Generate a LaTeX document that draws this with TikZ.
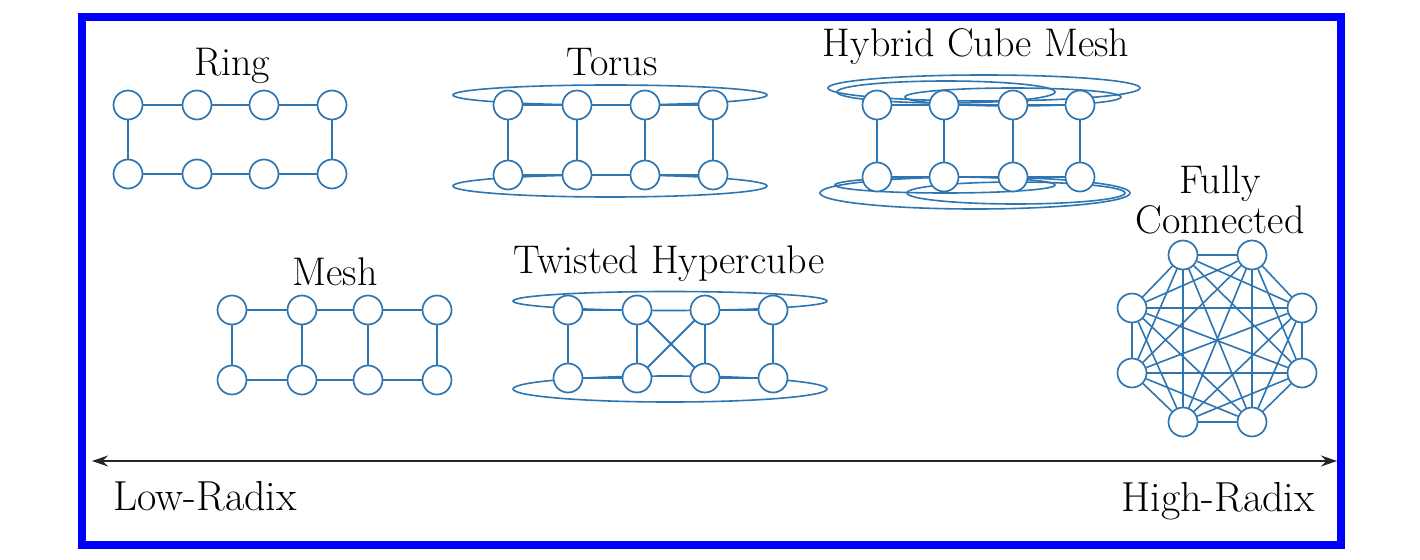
\documentclass[tikz,border=0pt]{standalone}
\usetikzlibrary{arrows.meta}
\definecolor{netblue}{RGB}{45,118,178}
\definecolor{frameblue}{RGB}{0,0,255}
\begin{document}
\begin{tikzpicture}[x=1pt,y=-1pt,
  nd/.style={circle,draw=netblue,fill=white,line width=1.7pt,minimum size=29pt,inner sep=0pt},
  ed/.style={draw=netblue,line width=1.8pt},
  ell/.style={draw=netblue,line width=1.6pt},
  lab/.style={font=\fontsize{40}{46}\selectfont,anchor=base,inner sep=0pt,text=black},
  blab/.style={font=\fontsize{42}{48}\selectfont,anchor=base,inner sep=0pt,text=black}]
\useasboundingbox (0,0) rectangle (1420,559);
\fill[white] (0,0) rectangle (1420,559);
\draw[frameblue,line width=8pt] (81.5,17) rectangle (1341,544.5);

% ---------- ellipses (behind nodes) ----------
% Torus
\draw[ell] (610,95) ellipse [x radius=157pt, y radius=10pt];
\draw[ell] (610,186) ellipse [x radius=157pt, y radius=11pt];
% Hybrid cube mesh
\draw[ell] (984,88) ellipse [x radius=156pt, y radius=13pt];
\draw[ell] (946,92) ellipse [x radius=109pt, y radius=11pt];
\draw[ell] (1013,97) ellipse [x radius=108pt, y radius=9pt];
\draw[ell] (975,193) ellipse [x radius=155pt, y radius=16pt];
\draw[ell] (945,185) ellipse [x radius=110pt, y radius=8pt];
\draw[ell] (1016,193) ellipse [x radius=109pt, y radius=11pt];
% Twisted hypercube
\draw[ell] (670,301) ellipse [x radius=157pt, y radius=9.5pt];
\draw[ell] (670,389) ellipse [x radius=157pt, y radius=13pt];

% ---------- nodes ----------
\foreach \x [count=\i] in {128,197,264,332} {
  \node[nd] (ra\i) at (\x,105) {};
  \node[nd] (rb\i) at (\x,174) {};
}
\foreach \x [count=\i] in {508,577,645,713} {
  \node[nd] (ta\i) at (\x,105) {};
  \node[nd] (tb\i) at (\x,175) {};
}
\foreach \x [count=\i] in {877,944,1013,1080} {
  \node[nd] (ha\i) at (\x,105) {};
  \node[nd] (hb\i) at (\x,177) {};
}
\foreach \x [count=\i] in {232,302,368,437} {
  \node[nd] (ma\i) at (\x,310) {};
  \node[nd] (mb\i) at (\x,380) {};
}
\foreach \x [count=\i] in {568,637,705,773} {
  \node[nd] (wa\i) at (\x,310) {};
  \node[nd] (wb\i) at (\x,378) {};
}
\node[nd] (f1) at (1183,255) {};
\node[nd] (f2) at (1252,255) {};
\node[nd] (f3) at (1302,308) {};
\node[nd] (f4) at (1302,373) {};
\node[nd] (f5) at (1252,422) {};
\node[nd] (f6) at (1183,422) {};
\node[nd] (f7) at (1132,373) {};
\node[nd] (f8) at (1132,308) {};

% ---------- edges ----------
% Ring
\foreach \i/\j in {1/2,2/3,3/4} {
  \draw[ed] (ra\i) -- (ra\j);
  \draw[ed] (rb\i) -- (rb\j);
}
\draw[ed] (ra1) -- (rb1);
\draw[ed] (ra4) -- (rb4);
% Torus, Hybrid, Mesh grids
\foreach \p in {t,h,m} {
  \foreach \i/\j in {1/2,2/3,3/4} {
    \draw[ed] (\p a\i) -- (\p a\j);
    \draw[ed] (\p b\i) -- (\p b\j);
  }
  \foreach \i in {1,...,4} { \draw[ed] (\p a\i) -- (\p b\i); }
}
% Twisted hypercube
\foreach \i/\j in {1/2,3/4} {
  \draw[ed] (wa\i) -- (wa\j);
  \draw[ed] (wb\i) -- (wb\j);
}
\foreach \i in {1,...,4} { \draw[ed] (wa\i) -- (wb\i); }
\draw[ed] (wa2) -- (wb3);
\draw[ed] (wa3) -- (wb2);
% Fully connected
\foreach \i in {1,...,7} {
  \pgfmathtruncatemacro{\s}{\i+1}
  \foreach \j in {\s,...,8} { \draw[ed,line width=1.6pt] (f\i) -- (f\j); }
}

% ---------- labels ----------
\node[lab] (lring) at (232,76) {Ring};
\node[lab] (ltorus) at (612,76) {Torus};
\node[lab] (lhyb) at (976,57) {Hybrid Cube Mesh};
\node[lab] (lmesh) at (335,285) {Mesh};
\node[lab] (ltw) at (669,273) {Twisted Hypercube};
\node[lab] (lfully) at (1220,193) {Fully};
\node[lab] (lconn) at (1220,233) {Connected};

% ---------- axis ----------
\coordinate (axl) at (92,461);
\coordinate (axr) at (1337,461);
\draw[black!85,line width=1.6pt,{Stealth[length=16pt,width=11pt]}-{Stealth[length=16pt,width=11pt]}] (axl) -- (axr);
\node[blab] (llow) at (205,510) {Low-Radix};
\node[blab] (lhigh) at (1218,511) {High-Radix};
\end{tikzpicture}
\end{document}
